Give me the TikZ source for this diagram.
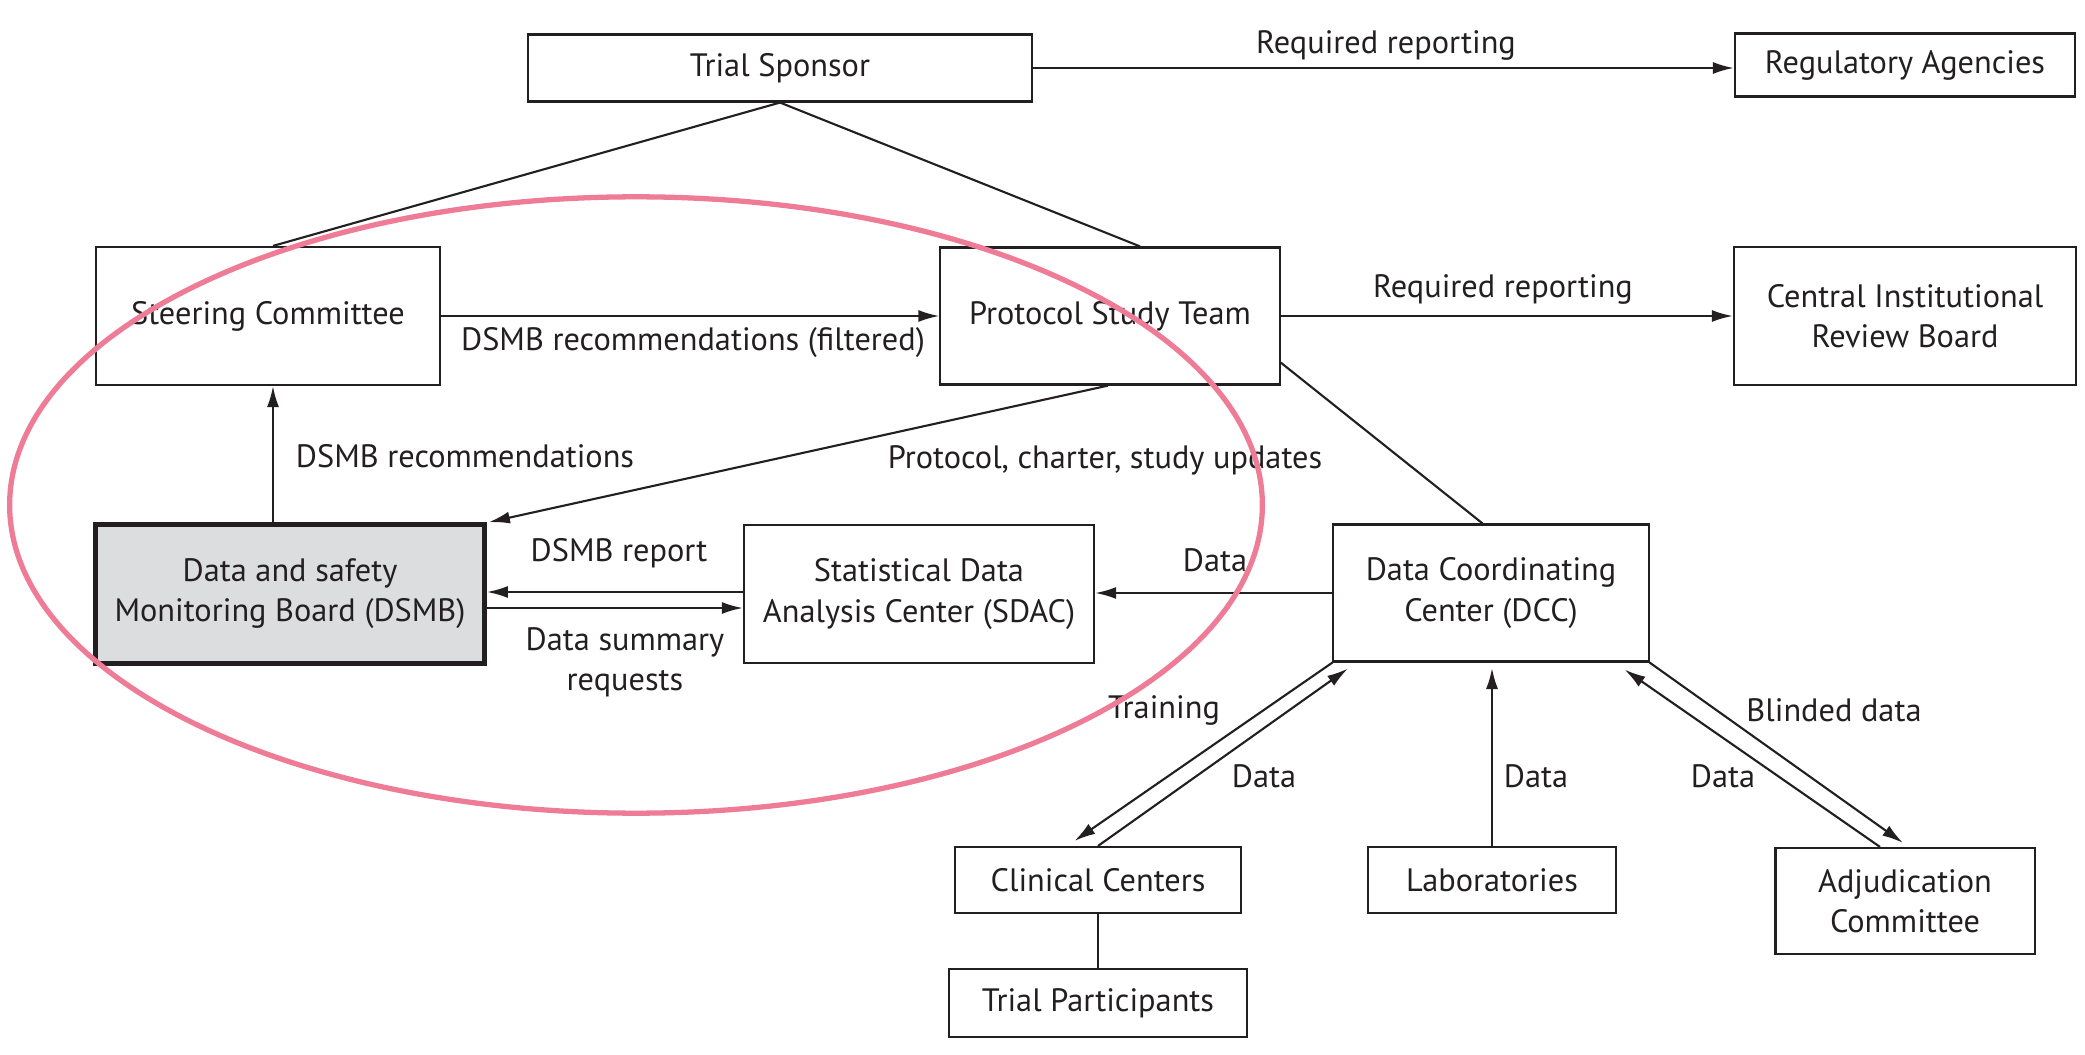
\documentclass[tikz,border=0pt]{standalone}
\usepackage{fontspec}
\setmainfont{PT Sans}
\usetikzlibrary{arrows.meta}
\definecolor{ringpink}{RGB}{238,124,150}
\definecolor{boardgray}{RGB}{220,221,223}
\definecolor{ink}{RGB}{35,31,32}
\begin{document}
\begin{tikzpicture}[x=0.01cm, y=-0.01cm,
   font=\fontsize{9.2}{11.4}\selectfont, color=ink,
   box/.style={draw, line width=0.6pt, inner sep=0pt, align=center},
   arr/.style={line width=0.6pt, -{Latex[length=2.1mm, width=1.2mm]}},
   link/.style={line width=0.6pt}]
   \useasboundingbox (0,0) rectangle (2085,1055);
   \node[box, minimum width=5.03cm, minimum height=0.67cm] (sponsor) at (780,68) {Trial Sponsor};
   \node[box, minimum width=3.40cm, minimum height=0.63cm] (reg) at (1905,65) {Regulatory Agencies};
   \node[box, minimum width=3.43cm, minimum height=1.38cm] (steer) at (268,316) {Steering Committee};
   \node[box, minimum width=3.39cm, minimum height=1.37cm] (pst) at (1110,316) {Protocol Study Team};
   \node[box, minimum width=3.42cm, minimum height=1.38cm] (cirb) at (1905,316) {Central Institutional\\Review Board};
   \node[box, line width=1.3pt, fill=boardgray, minimum width=3.89cm, minimum height=1.39cm] (dsmb) at (290,594) {Data and safety\\Monitoring Board (DSMB)};
   \node[box, minimum width=3.50cm, minimum height=1.38cm] (sdac) at (919,594) {Statistical Data\\Analysis Center (SDAC)};
   \node[box, minimum width=3.15cm, minimum height=1.37cm] (dcc) at (1491,593) {Data Coordinating\\Center (DCC)};
   \node[box, minimum width=2.85cm, minimum height=0.66cm] (clin) at (1098,880) {Clinical Centers};
   \node[box, minimum width=2.48cm, minimum height=0.66cm] (lab) at (1492,880) {Laboratories};
   \node[box, minimum width=2.59cm, minimum height=1.06cm] (adj) at (1905,901) {Adjudication\\Committee};
   \node[box, minimum width=2.98cm, minimum height=0.68cm] (part) at (1098,1003) {Trial Participants};

   \draw[arr] (sponsor.east) -- (sponsor.east -| reg.west);
   \draw[link] (sponsor.south) -- ([xshift=0.05cm]steer.north);
   \draw[link] (sponsor.south) -- ([xshift=0.3cm]pst.north);
   \draw[arr] (steer.east) -- (steer.east -| pst.west);
   \draw[arr] (pst.east) -- (pst.east -| cirb.west);
   \draw[arr] ([xshift=-0.17cm]dsmb.north) -- ([xshift=-0.17cm]dsmb.north |- steer.south);
   \draw[arr] ([xshift=-0.02cm]pst.south) -- ([xshift=0.02cm]dsmb.north east);
   \draw[link] ([yshift=-0.465cm]pst.east) -- ([xshift=-0.085cm]dcc.north);
   \draw[arr] ([yshift=0.02cm]sdac.west) -- ([yshift=0.02cm]sdac.west -| dsmb.east);
   \draw[arr] ([yshift=-0.14cm]dsmb.east) -- ([yshift=-0.14cm]dsmb.east -| sdac.west);
   \draw[arr] (dcc.west) -- (dcc.west -| sdac.east);
   \draw[arr] (dcc.south west) -- ([xshift=-0.235cm, yshift=0.05cm]clin.north);
   \draw[arr] (clin.north) -- ([xshift=0.155cm, yshift=-0.06cm]dcc.south west);
   \coordinate (labtip) at (1492,668);
   \draw[arr] (lab.north) -- (labtip);
   \draw[arr] ([xshift=-0.25cm]adj.north) -- ([xshift=-0.25cm, yshift=-0.07cm]dcc.south east);
   \draw[arr] (dcc.south east) -- ([xshift=-0.02cm, yshift=0.04cm]adj.north);
   \draw[link] (clin.south) -- (clin.south |- part.north);

   \node (l1) at (1386,45) {Required reporting};
   \node (l2) at (693,343) {DSMB recommendations (filtered)};
   \node (l3) at (1503,289) {Required reporting};
   \node (l4) at (465,456) {DSMB recommendations};
   \node (l5) at (1105,460) {Protocol, charter, study updates};
   \node (l6) at (619,553) {DSMB report};
   \node[align=center] (l7) at (625,662) {Data summary\\requests};
   \node (l8) at (1215,560) {Data};
   \node (l9) at (1164,710) {Training};
   \node (l10) at (1264,776) {Data};
   \node (l11) at (1536,776) {Data};
   \node (l12) at (1723,776) {Data};
   \node (l13) at (1834,710) {Blinded data};

   \draw[ringpink, line width=1.5pt] (636,505) ellipse [x radius=6.26cm, y radius=3.08cm];
\end{tikzpicture}
\end{document}
